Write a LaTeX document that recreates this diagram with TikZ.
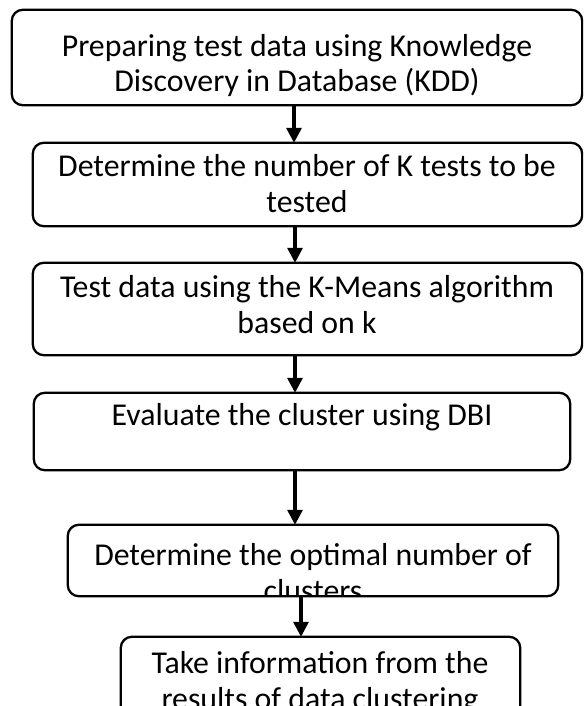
\documentclass[tikz,border=0pt]{standalone}
\usepackage{fontspec}
\setmainfont{Carlito}
\usetikzlibrary{arrows.meta}
\begin{document}
\begin{tikzpicture}[x=1pt,y=-1pt,
  box/.style={draw, rounded corners=11pt, line width=2.3pt},
  area/.style={minimum width=#1, inner sep=0pt},
  lbl/.style={align=center, font=\fontsize{31.8}{35.5}\selectfont, inner sep=0pt, anchor=base},
  arr/.style={-{Triangle[length=15pt,width=15pt]}, line width=3.2pt}]
\useasboundingbox (0,0) rectangle (583,706);
\clip (0,0) rectangle (583,706);
% box areas
\node[area=570pt, minimum height=95pt] (b1) at (297,57.5) {};
\node[area=549pt, minimum height=83pt] (b2) at (307.5,184.5) {};
\node[area=549pt, minimum height=92pt] (b3) at (307.5,309) {};
\node[area=536pt, minimum height=77pt] (b4) at (302,431.5) {};
\node[area=490pt, minimum height=71pt] (b5) at (313,560.5) {};
\node[area=399pt, minimum height=90pt] (b6) at (320.5,682) {};
% texts (anchored at the baseline of the last line)
\node[lbl] (t1) at (297,92) {Preparing test data using Knowledge\\Discovery in Database (KDD)};
\node[lbl] (t2) at (307,212) {Determine the number of K tests to be\\tested};
\node[lbl] (t3) at (307,333) {Test data using the K-Means algorithm\\based on k};
\node[lbl] (t4) at (302,425) {Evaluate the cluster using DBI};
\begin{scope}
\clip (b5.north west) rectangle (b5.south east);
\node[lbl] (t5) at (313,601) {Determine the optimal number of\\clusters};
\end{scope}
\node[lbl] (t6) at (320,709) {Take information from the\\results of data clustering};
% box outlines
\draw[box] (b1.north west) rectangle (b1.south east);
\draw[box] (b2.north west) rectangle (b2.south east);
\draw[box] (b3.north west) rectangle (b3.south east);
\draw[box] (b4.north west) rectangle (b4.south east);
\draw[box] (b5.north west) rectangle (b5.south east);
\draw[box] (b6.north west) rectangle (b6.south east);
% arrows
\coordinate (xa) at (294,0);
\coordinate (xb) at (295,0);
\coordinate (xc) at (301,0);
\draw[arr] (b1.south -| xa) -- (b2.north -| xa);
\draw[arr] (b2.south -| xb) -- (b3.north -| xb);
\draw[arr] (b3.south -| xb) -- (b4.north -| xb);
\draw[arr] (b4.south -| xb) -- (b5.north -| xb);
\draw[arr] (b5.south -| xc) -- (b6.north -| xc);
\end{tikzpicture}
\end{document}
